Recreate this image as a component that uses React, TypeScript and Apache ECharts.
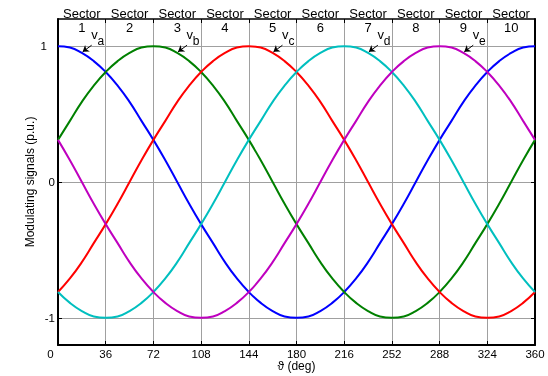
import React, { useEffect, useRef } from "react";
import * as echarts from "echarts";

const theta = [0, 9, 18, 27, 36, 45, 54, 63, 72, 81, 90, 99, 108, 117, 126, 135, 144, 153, 162, 171, 180, 189, 198, 207, 216, 225, 234, 243, 252, 261, 270, 279, 288, 297, 306, 315, 324, 333, 342, 351, 360];
const va = [1, 0.99, 0.95, 0.89, 0.81, 0.71, 0.59, 0.45, 0.31, 0.16, 0, -0.16, -0.31, -0.45, -0.59, -0.71, -0.81, -0.89, -0.95, -0.99, -1, -0.99, -0.95, -0.89, -0.81, -0.71, -0.59, -0.45, -0.31, -0.16, 0, 0.16, 0.31, 0.45, 0.59, 0.71, 0.81, 0.89, 0.95, 0.99, 1];
const vb = [0.31, 0.45, 0.59, 0.71, 0.81, 0.89, 0.95, 0.99, 1, 0.99, 0.95, 0.89, 0.81, 0.71, 0.59, 0.45, 0.31, 0.16, 0, -0.16, -0.31, -0.45, -0.59, -0.71, -0.81, -0.89, -0.95, -0.99, -1, -0.99, -0.95, -0.89, -0.81, -0.71, -0.59, -0.45, -0.31, -0.16, 0, 0.16, 0.31];
const vc = [-0.81, -0.71, -0.59, -0.45, -0.31, -0.16, 0, 0.16, 0.31, 0.45, 0.59, 0.71, 0.81, 0.89, 0.95, 0.99, 1, 0.99, 0.95, 0.89, 0.81, 0.71, 0.59, 0.45, 0.31, 0.16, 0, -0.16, -0.31, -0.45, -0.59, -0.71, -0.81, -0.89, -0.95, -0.99, -1, -0.99, -0.95, -0.89, -0.81];
const vd = [-0.81, -0.89, -0.95, -0.99, -1, -0.99, -0.95, -0.89, -0.81, -0.71, -0.59, -0.45, -0.31, -0.16, 0, 0.16, 0.31, 0.45, 0.59, 0.71, 0.81, 0.89, 0.95, 0.99, 1, 0.99, 0.95, 0.89, 0.81, 0.71, 0.59, 0.45, 0.31, 0.16, 0, -0.16, -0.31, -0.45, -0.59, -0.71, -0.81];
const ve = [0.31, 0.16, 0, -0.16, -0.31, -0.45, -0.59, -0.71, -0.81, -0.89, -0.95, -0.99, -1, -0.99, -0.95, -0.89, -0.81, -0.71, -0.59, -0.45, -0.31, -0.16, 0, 0.16, 0.31, 0.45, 0.59, 0.71, 0.81, 0.89, 0.95, 0.99, 1, 0.99, 0.95, 0.89, 0.81, 0.71, 0.59, 0.45, 0.31];

const phaseNames = ["a", "b", "c", "d", "e"];
const phaseValues = [va, vb, vc, vd, ve];
const phasePeaks = [0, 72, 144, 216, 288];
const phaseColors = ["#0000ff", "#008000", "#ff0000", "#00bfbf", "#bf00bf"];
const sectorNames = ["1", "2", "3", "4", "5", "6", "7", "8", "9", "10"];
const yTicks = [-1, 0, 1];
const xTitle = "\u03d1 (deg)";
const yTitle = "Modulating signals (p.u.)";

const FONT = "'Liberation Sans', Arial, Helvetica, sans-serif";

export default function App() {
  const ref = useRef<HTMLDivElement>(null);
  useEffect(() => {
    if (!ref.current) return;
    const chart = echarts.init(ref.current, undefined, { renderer: "svg" });
    const series: any[] = phaseValues.map((vals, k) => {
      const p = phasePeaks[k];
      return {
        type: "line",
        name: "v" + phaseNames[k],
        data: theta.map((t, i) => [t, vals[i]]),
        showSymbol: false,
        smooth: true,
        lineStyle: { color: phaseColors[k], width: 2 },
        itemStyle: { color: phaseColors[k] },
        xAxisIndex: 0,
        yAxisIndex: 0,
        markLine: {
          silent: true,
          symbol: ["none", "arrow"],
          symbolSize: 6,
          lineStyle: { color: "#000", width: 1, type: "solid" },
          label: { show: false },
          emphasis: { disabled: true },
          data: [[{ coord: [p + 25.4, 1.007] }, { coord: [p + 18.6, 0.958] }]],
        },
        markPoint: {
          silent: true,
          symbol: "circle",
          symbolSize: 0,
          data: [
            {
              coord: [p + 27.5, 1.085],
              label: { show: true, position: "inside", formatter: "v", color: "#000", fontSize: 13, fontFamily: FONT },
            },
            {
              coord: [p + 32.3, 1.04],
              label: { show: true, position: "inside", formatter: phaseNames[k], color: "#000", fontSize: 12, fontFamily: FONT },
            },
          ],
        },
      };
    });

    chart.setOption({
      animation: false,
      textStyle: { fontFamily: FONT },
      grid: { left: 58, right: 13, top: 19, bottom: 31, containLabel: false, outerBoundsMode: "none" },
      xAxis: [
        {
          type: "value",
          min: 0,
          max: 360,
          interval: 36,
          position: "bottom",
          axisLine: { show: true, onZero: false, lineStyle: { color: "#000", width: 2 } },
          axisTick: { show: true, inside: true, length: 4, lineStyle: { color: "#000" } },
          axisLabel: {
            color: "#000",
            fontSize: 11.5,
            margin: 3,
            fontFamily: FONT,
            formatter: (v: number) => (v === 0 ? "{z|0}" : String(v)),
            rich: { z: { color: "#000", fontSize: 11.5, fontFamily: FONT, padding: [0, 15, 0, 0] } },
          },
          splitLine: { show: true, lineStyle: { color: "#a0a0a0", width: 1 } },
        },
        {
          type: "value",
          min: 0,
          max: 360,
          interval: 36,
          position: "top",
          axisLine: { show: true, onZero: false, lineStyle: { color: "#000", width: 1.5 } },
          axisTick: { show: true, inside: true, length: 4, lineStyle: { color: "#000" } },
          axisLabel: { show: false },
          splitLine: { show: false },
        },
      ],
      yAxis: [
        {
          type: "value",
          min: -1.2,
          max: 1.2,
          position: "left",
          axisLine: { show: true, onZero: false, lineStyle: { color: "#000", width: 2 } },
          axisTick: { show: true, inside: true, length: 4, customValues: yTicks, lineStyle: { color: "#000" } },
          axisLabel: {
            color: "#000",
            fontSize: 11.5,
            margin: 3,
            fontFamily: FONT,
            customValues: yTicks,
            formatter: (v: number) => (v === 1 ? "{o|1}" : String(v)),
            rich: { o: { color: "#000", fontSize: 11.5, fontFamily: FONT, padding: [0, 8, 0, 0] } },
          },
          splitLine: { show: true, lineStyle: { color: "#a0a0a0", width: 1 } },
        },
        {
          type: "value",
          min: -1.2,
          max: 1.2,
          position: "right",
          axisLine: { show: true, onZero: false, lineStyle: { color: "#000", width: 2 } },
          axisTick: { show: true, inside: true, length: 4, customValues: yTicks, lineStyle: { color: "#000" } },
          axisLabel: { show: false },
          splitLine: { show: false },
        },
      ],
      series,
    });

    const graphic: any[] = [];
    const numY = chart.convertToPixel({ yAxisIndex: 0 }, 1.14) as number;
    sectorNames.forEach((s, i) => {
      const px = chart.convertToPixel({ xAxisIndex: 0 }, i * 36 + 18) as number;
      graphic.push({
        type: "text",
        x: px,
        y: 13,
        style: { text: "Sector", fill: "#000", fontSize: 13, fontFamily: FONT, align: "center", verticalAlign: "middle" },
      });
      graphic.push({
        type: "text",
        x: px,
        y: numY,
        style: { text: s, fill: "#000", fontSize: 13, fontFamily: FONT, align: "center", verticalAlign: "middle" },
      });
    });
    const xMid = chart.convertToPixel({ xAxisIndex: 0 }, 180) as number;
    const yMid = chart.convertToPixel({ yAxisIndex: 0 }, 0) as number;
    graphic.push({
      type: "text",
      x: xMid,
      y: 366,
      style: { text: xTitle, fill: "#000", fontSize: 12, fontFamily: FONT, align: "center", verticalAlign: "middle" },
    });
    graphic.push({
      type: "text",
      x: 30,
      y: yMid,
      rotation: Math.PI / 2,
      style: { text: yTitle, fill: "#000", fontSize: 12, fontFamily: FONT, align: "center", verticalAlign: "middle" },
    });
    chart.setOption({ graphic });

    return () => chart.dispose();
  }, []);
  return <div ref={ref} style={{ position: "fixed", left: 0, top: 0, width: 548, height: 376 }} />;
}
